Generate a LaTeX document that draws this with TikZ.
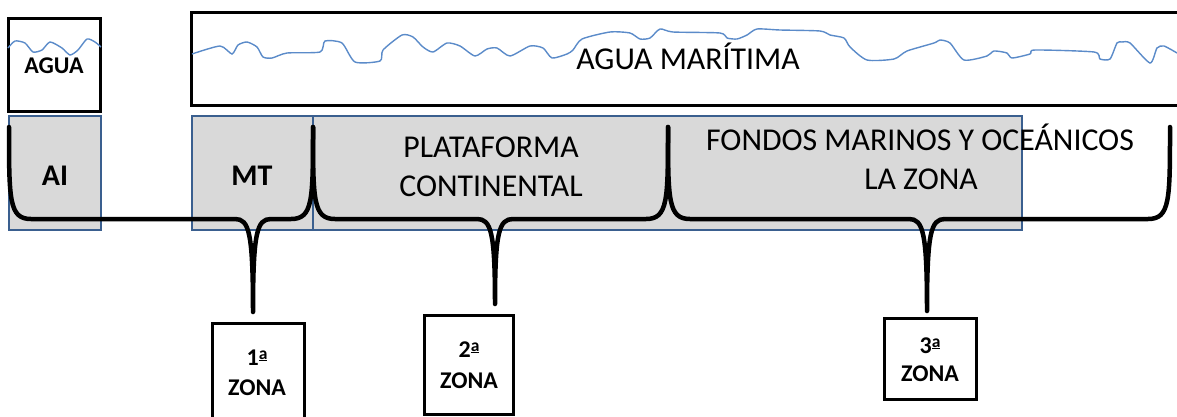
\documentclass[tikz,border=0pt]{standalone}
\usepackage{fontspec}
\setmainfont{Carlito}
\definecolor{wavec}{HTML}{5B8BC9}
\definecolor{bordc}{HTML}{3A5F8F}
\definecolor{grayf}{HTML}{D9D9D9}
\newcommand\ordsup[1]{#1\raisebox{6pt}{\fontsize{17.5}{17}\selectfont\underline{a}}}
\tikzset{
  blackbox/.style={draw=black, line width=3pt},
  graybox/.style={draw=bordc, fill=grayf, line width=2.8pt},
  wave/.style={draw=wavec, line width=1.4pt},
  bracepath/.style={draw=black, line width=4.5pt, line cap=round, line join=round},
  zonebox/.style={draw=black, fill=white, line width=3pt, minimum width=92pt, inner sep=0pt},
  regtxt/.style={font=\fontsize{31.8}{38}\selectfont, inner sep=0pt, anchor=base},
  boldtxt/.style={font=\bfseries\fontsize{30}{36}\selectfont, inner sep=0pt, anchor=base},
  zonetxt/.style={font=\bfseries\fontsize{24}{28}\selectfont, inner sep=0pt, anchor=base},
}
\newcommand\zonebrace[4]{% left x, right x, tip x, tip y
  \draw[bracepath] (#1,127) .. controls (#1,200) and (#1,219) .. ({#1+22},219)
    -- ({#3-18},219) .. controls ({#3-4},219) and (#3,232) .. (#3,#4)
    .. controls (#3,232) and ({#3+4},219) .. ({#3+18},219)
    -- ({#2-22},219) .. controls (#2,219) and (#2,200) .. (#2,127);}
\begin{document}
\begin{tikzpicture}[x=1pt, y=-1pt]
\useasboundingbox (0,0) rectangle (1177,416);
% water boxes
\draw[blackbox] (8,18) rectangle (100,111);
\draw[wave] plot[smooth, tension=0.4] coordinates {(8,48) (15,41) (25,43) (33,52) (42,50) (50,42) (62,48) (70,55) (78,50) (87,39) (95,42) (101,47)};
\node[boldtxt, font=\bfseries\fontsize{24}{28}\selectfont] (agua) at (54,73) {AGUA};
\draw[blackbox] (1190,12) -- (191,12) -- (191,105) -- (1190,105);
\draw[wave] plot[smooth, tension=0.4] coordinates {(192,54) (220,46) (232,54) (238,45) (247,42) (257,47) (263,57) (272,58) (287,53) (320,52) (325,41) (342,43) (355,62) (380,61) (383,50) (402,35) (413,37) (423,47) (433,52) (447,43) (460,46) (475,56) (487,49) (497,48) (510,56) (530,46) (543,48) (552,58) (567,54) (573,50) (582,39) (610,32) (630,33) (640,39) (650,38) (660,29) (673,32) (720,33) (727,38) (737,39) (747,35) (757,29) (780,30) (820,31) (830,35) (844,38) (850,47) (867,60) (894,59) (907,51) (934,43) (940,40) (950,43) (964,60) (987,56) (994,51) (1007,53) (1012,58) (1030,54) (1035,50) (1094,52) (1100,59) (1110,59) (1117,43) (1122,42) (1130,43) (1150,63) (1157,48) (1164,46) (1177,53)};
\node[regtxt] (maritima) at (688,69) {AGUA MARÍTIMA};
% gray boxes
\draw[graybox] (9,116) rectangle (101,230);
\draw[graybox] (192,116) rectangle (313,230);
\draw[graybox] (313,116) rectangle (1022,230);
% braces
\zonebrace{9}{313}{253}{312}
\zonebrace{313}{668}{495}{304}
\zonebrace{668}{1170}{927}{311}
% texts in gray boxes
\node[boldtxt] (ai) at (55,185) {AI};
\node[boldtxt] (mt) at (252,185) {MT};
\node[regtxt] (plat1) at (491,157) {PLATAFORMA};
\node[regtxt] (plat2) at (491,196) {CONTINENTAL};
\node[regtxt] (fond1) at (920,150) {FONDOS MARINOS Y OCEÁNICOS};
\node[regtxt] (fond2) at (921,189) {LA ZONA};
% zone boxes
\node[zonebox, minimum height=108pt, anchor=north] (z1) at (258,322) {};
\node[zonebox, minimum height=99pt, minimum width=89pt, anchor=north] (z2) at (469,314) {};
\node[zonebox, minimum height=81pt, anchor=north] (z3) at (930,317) {};
\node[zonetxt] (z1a) at (257,365) {\ordsup{1}};
\node[zonetxt] (z1b) at (257,395) {ZONA};
\node[zonetxt] (z2a) at (469,357) {\ordsup{2}};
\node[zonetxt] (z2b) at (469,388) {ZONA};
\node[zonetxt] (z3a) at (930,353) {\ordsup{3}};
\node[zonetxt] (z3b) at (930,381) {ZONA};
\end{tikzpicture}
\end{document}
